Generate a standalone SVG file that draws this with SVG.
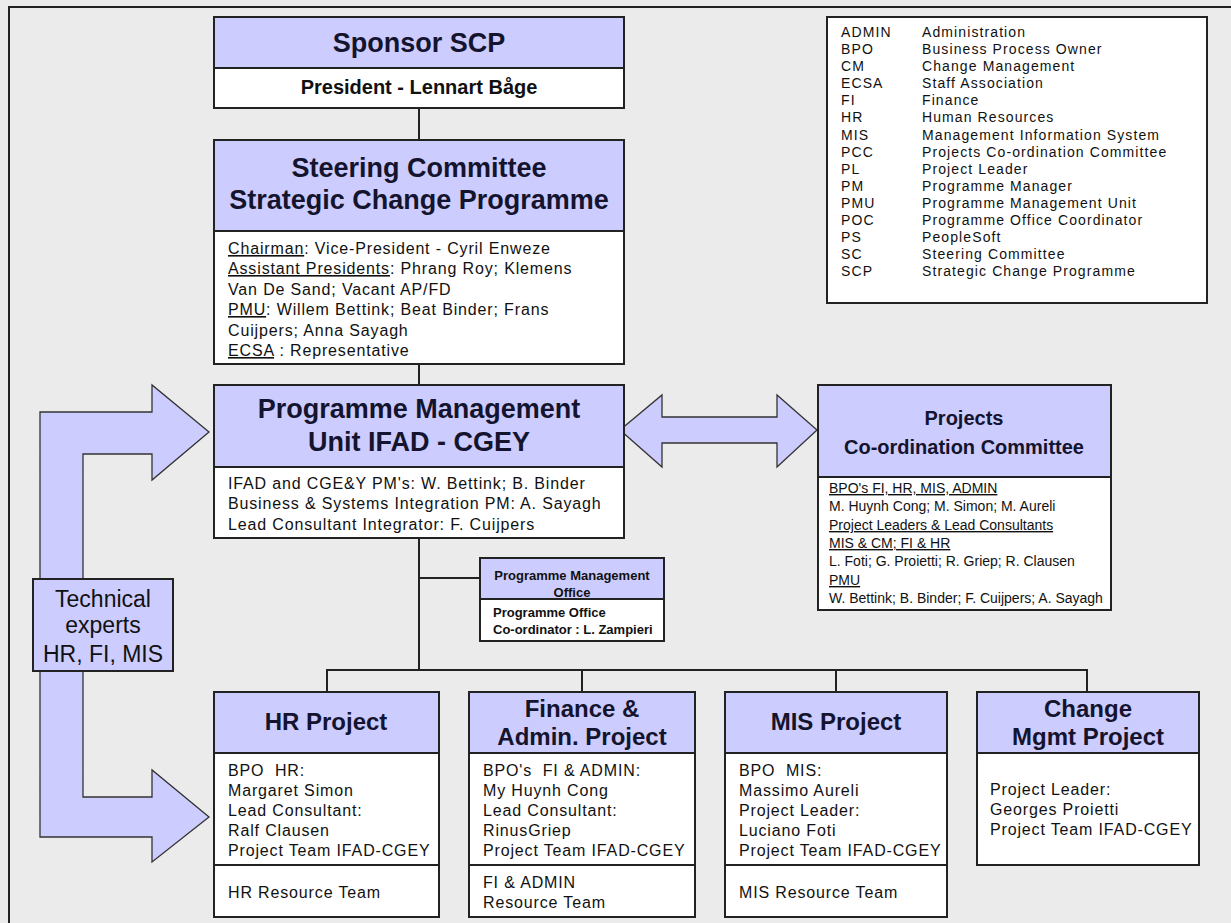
<svg xmlns="http://www.w3.org/2000/svg" width="1231" height="923" viewBox="0 0 1231 923">
<style>
.hd{fill:#ccccff;stroke:#222;stroke-width:2}
.bd{fill:#fff;stroke:#222;stroke-width:2}
.ln{stroke:#222;stroke-width:2;fill:none}
.ar{fill:#ccccff;stroke:#333;stroke-width:1.3}
text{font-family:"Liberation Sans",Arial,sans-serif;fill:#111}
.ttl{font-weight:bold;fill:#14142e;text-anchor:middle}
.b{font-size:16px;letter-spacing:0.85px}
.lg{font-size:14px;letter-spacing:1.1px}
.pc{font-size:14px}
.pm{font-size:13px;font-weight:bold}
.u{text-decoration:underline}
</style>
<rect x="0" y="0" width="1231" height="923" fill="#ebebeb"/>
<path class="ln" d="M9,923 V7 H1231"/>

<g id="connectors">
<path class="ln" d="M419,108 V140"/>
<path class="ln" d="M419,364 V385"/>
<path class="ln" d="M419,538 V670"/>
<path class="ln" d="M419,578 H480"/>
<path class="ln" d="M327,692 V670 H1087 V692"/>
<path class="ln" d="M582,670 V692"/>
<path class="ln" d="M836,670 V692"/>
<polygon id="pmu-pcc-arrow" class="ar" points="620,430 662,395 662,417 777,417 777,395 817,430 777,467 777,443 662,443 662,467"/>
<polygon id="experts-arrow" class="ar" points="40,412 152,412 152,385 209,432 152,480 152,454 83,454 83,797 152,797 152,770 209,817 152,862 152,837 40,837"/>
</g>

<g id="legend">
<rect x="827" y="17" width="380" height="286" class="bd"/>
<g class="lg">
<text x="841" y="37">ADMIN</text><text x="922" y="37">Administration</text>
<text x="841" y="54">BPO</text><text x="922" y="54">Business Process Owner</text>
<text x="841" y="71">CM</text><text x="922" y="71">Change Management</text>
<text x="841" y="88">ECSA</text><text x="922" y="88">Staff Association</text>
<text x="841" y="105">FI</text><text x="922" y="105">Finance</text>
<text x="841" y="122">HR</text><text x="922" y="122">Human Resources</text>
<text x="841" y="140">MIS</text><text x="922" y="140">Management Information System</text>
<text x="841" y="157">PCC</text><text x="922" y="157">Projects Co-ordination Committee</text>
<text x="841" y="174">PL</text><text x="922" y="174">Project Leader</text>
<text x="841" y="191">PM</text><text x="922" y="191">Programme Manager</text>
<text x="841" y="208">PMU</text><text x="922" y="208">Programme Management Unit</text>
<text x="841" y="225">POC</text><text x="922" y="225">Programme Office Coordinator</text>
<text x="841" y="242">PS</text><text x="922" y="242">PeopleSoft</text>
<text x="841" y="259">SC</text><text x="922" y="259">Steering Committee</text>
<text x="841" y="276">SCP</text><text x="922" y="276">Strategic Change Programme</text>
</g>
</g>

<g id="sponsor">
<rect x="214" y="17" width="410" height="51" class="hd"/>
<rect x="214" y="68" width="410" height="40" class="bd"/>
<text x="419" y="52" class="ttl" font-size="27">Sponsor SCP</text>
<text x="419" y="94" font-size="20" font-weight="bold" text-anchor="middle">President - Lennart Båge</text>
</g>

<g id="steering">
<rect x="214" y="140" width="410" height="91" class="hd"/>
<rect x="214" y="231" width="410" height="133" class="bd"/>
<text x="419" y="177" class="ttl" font-size="27">Steering Committee</text>
<text x="419" y="209" class="ttl" font-size="27">Strategic Change Programme</text>
<g class="b">
<text x="228" y="254"><tspan class="u">Chairman</tspan>: Vice-President - Cyril Enweze</text>
<text x="228" y="274"><tspan class="u">Assistant Presidents</tspan>: Phrang Roy; Klemens</text>
<text x="228" y="295">Van De Sand; Vacant AP/FD</text>
<text x="228" y="315"><tspan class="u">PMU</tspan>: Willem Bettink; Beat Binder; Frans</text>
<text x="228" y="336">Cuijpers; Anna Sayagh</text>
<text x="228" y="356"><tspan class="u">ECSA</tspan> : Representative</text>
</g>
</g>

<g id="pmu">
<rect x="214" y="385" width="410" height="82" class="hd"/>
<rect x="214" y="467" width="410" height="71" class="bd"/>
<text x="419" y="418" class="ttl" font-size="27">Programme Management</text>
<text x="419" y="451" class="ttl" font-size="27">Unit IFAD - CGEY</text>
<g class="b">
<text x="228" y="489">IFAD and CGE&amp;Y PM's: W. Bettink; B. Binder</text>
<text x="228" y="509">Business &amp; Systems Integration PM: A. Sayagh</text>
<text x="228" y="530">Lead Consultant Integrator: F. Cuijpers</text>
</g>
</g>

<g id="pcc">
<rect x="818" y="385" width="293" height="92" class="hd"/>
<rect x="818" y="477" width="293" height="133" class="bd"/>
<text x="964" y="425" class="ttl" font-size="20">Projects</text>
<text x="964" y="454" class="ttl" font-size="20">Co-ordination Committee</text>
<g class="pc">
<text x="829" y="493" class="u">BPO's FI, HR, MIS, ADMIN</text>
<text x="829" y="511">M. Huynh Cong; M. Simon; M. Aureli</text>
<text x="829" y="530" class="u">Project Leaders &amp; Lead Consultants</text>
<text x="829" y="548" class="u">MIS &amp; CM; FI &amp; HR</text>
<text x="829" y="566">L. Foti; G. Proietti; R. Griep; R. Clausen</text>
<text x="829" y="585" class="u">PMU</text>
<text x="829" y="603">W. Bettink; B. Binder; F. Cuijpers; A. Sayagh</text>
</g>
</g>

<g id="pmo">
<rect x="480" y="558" width="184" height="41" class="hd"/>
<rect x="480" y="599" width="184" height="42" class="bd"/>
<text x="572" y="580" class="pm" text-anchor="middle" fill="#14142e">Programme Management</text>
<text x="572" y="597" class="pm" text-anchor="middle" fill="#14142e">Office</text>
<text x="493" y="617" class="pm">Programme Office</text>
<text x="493" y="634" class="pm">Co-ordinator : L. Zampieri</text>
</g>

<g id="experts">
<rect x="33" y="579" width="140" height="92" class="hd"/>
<text x="103" y="607" font-size="23" text-anchor="middle" fill="#222">Technical</text>
<text x="103" y="633" font-size="23" text-anchor="middle" fill="#222">experts</text>
<text x="103" y="662" font-size="23" text-anchor="middle" fill="#222">HR, FI, MIS</text>
</g>

<g id="hr-project">
<rect x="214" y="692" width="225" height="61" class="hd"/>
<rect x="214" y="753" width="225" height="112" class="bd"/>
<rect x="214" y="865" width="225" height="52" class="bd"/>
<text x="326" y="730" class="ttl" font-size="24">HR Project</text>
<g class="b">
<text x="228" y="776">BPO&#160; HR:</text>
<text x="228" y="796">Margaret Simon</text>
<text x="228" y="816">Lead Consultant:</text>
<text x="228" y="836">Ralf Clausen</text>
<text x="228" y="856">Project Team IFAD-CGEY</text>
<text x="228" y="898">HR Resource Team</text>
</g>
</g>

<g id="finance-project">
<rect x="469" y="692" width="226" height="61" class="hd"/>
<rect x="469" y="753" width="226" height="112" class="bd"/>
<rect x="469" y="865" width="226" height="52" class="bd"/>
<text x="582" y="717" class="ttl" font-size="24">Finance &amp;</text>
<text x="582" y="745" class="ttl" font-size="24">Admin. Project</text>
<g class="b">
<text x="483" y="776">BPO's&#160; FI &amp; ADMIN:</text>
<text x="483" y="796">My Huynh Cong</text>
<text x="483" y="816">Lead Consultant:</text>
<text x="483" y="836">RinusGriep</text>
<text x="483" y="856">Project Team IFAD-CGEY</text>
<text x="483" y="888">FI &amp; ADMIN</text>
<text x="483" y="908">Resource Team</text>
</g>
</g>

<g id="mis-project">
<rect x="725" y="692" width="222" height="61" class="hd"/>
<rect x="725" y="753" width="222" height="112" class="bd"/>
<rect x="725" y="865" width="222" height="52" class="bd"/>
<text x="836" y="730" class="ttl" font-size="24">MIS Project</text>
<g class="b">
<text x="739" y="776">BPO&#160; MIS:</text>
<text x="739" y="796">Massimo Aureli</text>
<text x="739" y="816">Project Leader:</text>
<text x="739" y="836">Luciano Foti</text>
<text x="739" y="856">Project Team IFAD-CGEY</text>
<text x="739" y="898">MIS Resource Team</text>
</g>
</g>

<g id="change-project">
<rect x="977" y="692" width="222" height="61" class="hd"/>
<rect x="977" y="753" width="222" height="112" class="bd"/>
<text x="1088" y="717" class="ttl" font-size="24">Change</text>
<text x="1088" y="745" class="ttl" font-size="24">Mgmt Project</text>
<g class="b">
<text x="990" y="795">Project Leader:</text>
<text x="990" y="815">Georges Proietti</text>
<text x="990" y="835">Project Team IFAD-CGEY</text>
</g>
</g>
</svg>
